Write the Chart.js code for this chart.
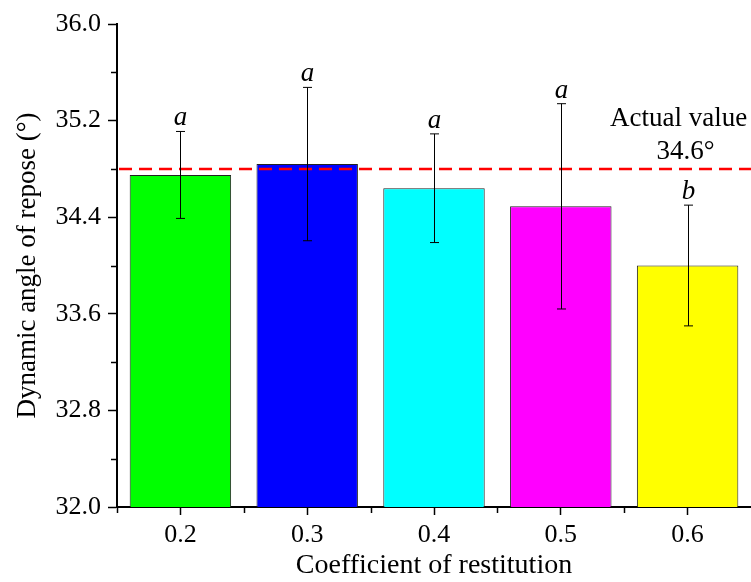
<!DOCTYPE html>
<html>
<head>
<meta charset="utf-8">
<script src="https://cdn.jsdelivr.net/npm/chart.js@4.4.1/dist/chart.umd.min.js"></script>
<style>
  html, body { margin: 0; padding: 0; background: #fff; }
  #wrap { width: 751px; height: 582px; }
</style>
</head>
<body>
<div id="wrap"><canvas id="graph" width="751" height="582"></canvas></div>
<script>
// data
const categories = ['0.2', '0.3', '0.4', '0.5', '0.6'];
const meanAngle = [34.75, 34.84, 34.64, 34.49, 34.00];
const stdDev = [0.36, 0.635, 0.45, 0.85, 0.50];
const groupLetters = ['a', 'a', 'a', 'a', 'b'];
const barColors = ['#00ff00', '#0000ff', '#00ffff', '#ff00ff', '#ffff00'];
const actualLine = 34.8;
const actualLabel = ['Actual value', '34.6°'];

const FONT = '"Liberation Serif", "Times New Roman", serif';

// error bars, significance letters, reference line, minor ticks
const extras = {
    id: 'extras',
    afterDatasetsDraw(chart) {
        const ctx = chart.ctx;
        const y = chart.scales.y;
        const x = chart.scales.x;
        const area = chart.chartArea;
        const bars = chart.getDatasetMeta(0).data;

        ctx.save();
        // reference line
        const ly = y.getPixelForValue(actualLine);
        ctx.strokeStyle = '#ff0000';
        ctx.lineWidth = 2.5;
        ctx.setLineDash([13, 7]);
        ctx.beginPath();
        ctx.moveTo(area.left + 2, ly);
        ctx.lineTo(area.right, ly);
        ctx.stroke();
        ctx.setLineDash([]);

        // error bars
        ctx.strokeStyle = '#000';
        ctx.lineWidth = 1;
        ctx.fillStyle = '#000';
        ctx.textAlign = 'center';
        ctx.textBaseline = 'alphabetic';
        ctx.font = 'italic 27px ' + FONT;
        bars.forEach((bar, i) => {
            const cx = Math.round(bar.x) + 0.5;
            const top = y.getPixelForValue(meanAngle[i] + stdDev[i]);
            const bot = y.getPixelForValue(meanAngle[i] - stdDev[i]);
            ctx.beginPath();
            ctx.moveTo(cx, top);
            ctx.lineTo(cx, bot);
            ctx.moveTo(cx - 4.5, top);
            ctx.lineTo(cx + 4.5, top);
            ctx.moveTo(cx - 4.5, bot);
            ctx.lineTo(cx + 4.5, bot);
            ctx.stroke();
            ctx.fillText(groupLetters[i], cx, top - 6);
        });

        // label of the reference line
        ctx.font = '27px ' + FONT;
        ctx.fillText(actualLabel[0], x.getPixelForValue(4) - 9, ly - 43);
        ctx.fillText(actualLabel[1], x.getPixelForValue(4) - 2, ly - 10);

        // minor ticks
        ctx.lineWidth = 1.5;
        const ticksY = y.ticks;
        for (let k = 0; k < ticksY.length - 1; k++) {
            const py = Math.round(y.getPixelForValue((ticksY[k].value + ticksY[k + 1].value) / 2)) + 0.5;
            ctx.beginPath();
            ctx.moveTo(area.left - 6, py);
            ctx.lineTo(area.left, py);
            ctx.stroke();
        }
        for (let k = 0; k < categories.length; k++) {
            const px = Math.round(x.getPixelForValue(k - 0.5)) + 0.5;
            ctx.beginPath();
            ctx.moveTo(px, area.bottom);
            ctx.lineTo(px, area.bottom + 6);
            ctx.stroke();
        }
        ctx.restore();
    }
};

new Chart(document.getElementById('graph').getContext('2d'), {
    type: 'bar',
    data: {
        labels: categories,
        datasets: [{
            data: meanAngle,
            backgroundColor: barColors,
            borderColor: '#222',
            borderWidth: 1,
            borderSkipped: false,
            barPercentage: 0.8,
            categoryPercentage: 1.0
        }]
    },
    options: {
        responsive: false,
        animation: false,
        devicePixelRatio: 1,
        layout: { padding: { top: 24, right: 0, left: 0, bottom: 0 } },
        plugins: {
            legend: { display: false },
            tooltip: { enabled: false }
        },
        scales: {
            x: {
                offset: true,
                border: { color: '#000', width: 2 },
                grid: { display: true, offset: false, drawOnChartArea: false, tickLength: 8, tickColor: '#000', tickWidth: 1.5 },
                ticks: { color: '#000', font: { family: FONT, size: 26 }, padding: 5, maxRotation: 0 },
                title: { display: true, text: 'Coefficient of restitution', color: '#000', font: { family: FONT, size: 28 }, padding: { top: 0, bottom: 0 } },
                afterFit: s => { s.height = 75; }
            },
            y: {
                min: 32,
                max: 36,
                border: { color: '#000', width: 2 },
                grid: { display: true, drawOnChartArea: false, tickLength: 9, tickColor: '#000', tickWidth: 1.5 },
                ticks: { stepSize: 0.8, color: '#000', font: { family: FONT, size: 26 }, padding: 7,
                    callback: v => Number(v).toFixed(1) },
                title: { display: true, text: 'Dynamic angle of repose (°)', color: '#000', font: { family: FONT, size: 27 }, padding: { top: 12, bottom: 0 } },
                afterFit: s => { s.width = 117; }
            }
        }
    },
    plugins: [extras]
});
</script>
</body>
</html>
